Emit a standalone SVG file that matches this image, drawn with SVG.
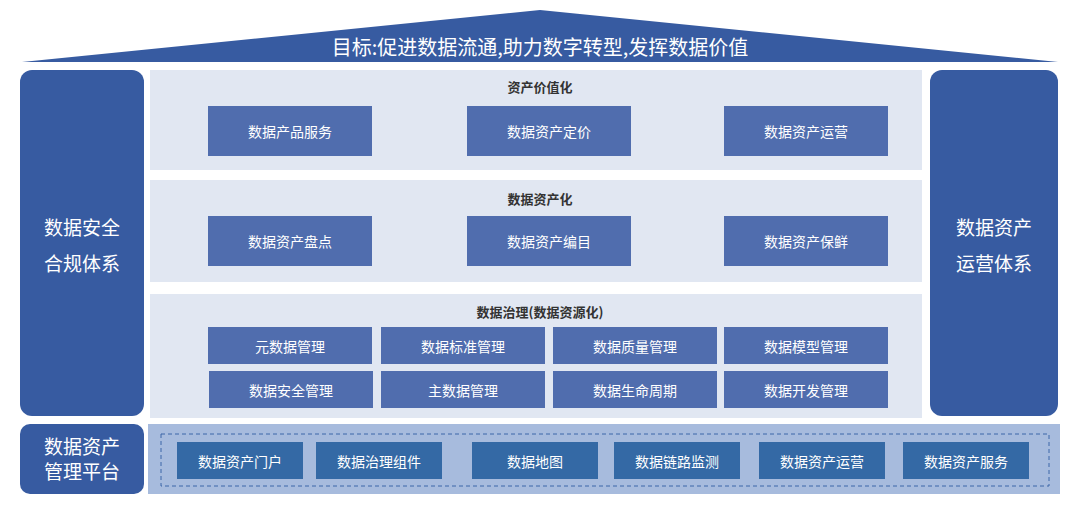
<svg xmlns="http://www.w3.org/2000/svg" width="1080" height="507" viewBox="0 0 1080 507">
<style>
text{font-family:"Noto Sans CJK SC","Noto Sans",sans-serif;text-anchor:middle;dominant-baseline:central}
.side{fill:#375ba1}
.sec{fill:#e1e7f2}
.b{fill:#506dae}
.bt{fill:#fff;font-size:14px}
.h{fill:#333;font-size:13px;font-weight:bold}
.p{fill:#3469a5}
.st{fill:#fff;font-size:19px}
</style>
<rect width="1080" height="507" fill="#fff"/>
<g id="roof"><polygon class="side" points="22,62 540,10 1058,62"/><text x="540" y="46" fill="#fff" font-size="20">目标:促进数据流通,助力数字转型,发挥数据价值</text></g>
<g id="left"><rect class="side" x="20" y="70" width="124" height="346" rx="12"/><text class="st" x="82" y="226">数据安全</text><text class="st" x="82" y="262">合规体系</text></g>
<g id="right"><rect class="side" x="930" y="70" width="128" height="346" rx="12"/><text class="st" x="994" y="226">数据资产</text><text class="st" x="994" y="262">运营体系</text></g>
<g id="platform-label"><rect class="side" x="20" y="424" width="124" height="70" rx="10"/><text class="st" x="82" y="445">数据资产</text><text class="st" x="82" y="470">管理平台</text></g>
<g id="sec1"><rect class="sec" x="150" y="70" width="772" height="100"/><text class="h" x="540" y="86">资产价值化</text>
<rect class="b" x="208" y="106" width="164" height="50"/><text class="bt" x="290" y="131">数据产品服务</text>
<rect class="b" x="467" y="106" width="164" height="50"/><text class="bt" x="549" y="131">数据资产定价</text>
<rect class="b" x="724" y="106" width="164" height="50"/><text class="bt" x="806" y="131">数据资产运营</text></g>
<g id="sec2"><rect class="sec" x="150" y="180" width="772" height="102"/><text class="h" x="540" y="198">数据资产化</text>
<rect class="b" x="208" y="216" width="164" height="50"/><text class="bt" x="290" y="241">数据资产盘点</text>
<rect class="b" x="467" y="216" width="164" height="50"/><text class="bt" x="549" y="241">数据资产编目</text>
<rect class="b" x="724" y="216" width="164" height="50"/><text class="bt" x="806" y="241">数据资产保鲜</text></g>
<g id="sec3"><rect class="sec" x="150" y="294" width="772" height="124"/><text class="h" x="540" y="311">数据治理(数据资源化)</text>
<rect class="b" x="208" y="327" width="164" height="37"/><text class="bt" x="290" y="346">元数据管理</text>
<rect class="b" x="381" y="327" width="164" height="37"/><text class="bt" x="463" y="346">数据标准管理</text>
<rect class="b" x="553" y="327" width="164" height="37"/><text class="bt" x="635" y="346">数据质量管理</text>
<rect class="b" x="724" y="327" width="164" height="37"/><text class="bt" x="806" y="346">数据模型管理</text>
<rect class="b" x="209" y="371" width="164" height="37"/><text class="bt" x="291" y="390">数据安全管理</text>
<rect class="b" x="381" y="371" width="164" height="37"/><text class="bt" x="463" y="390">主数据管理</text>
<rect class="b" x="553" y="371" width="164" height="37"/><text class="bt" x="635" y="390">数据生命周期</text>
<rect class="b" x="724" y="371" width="164" height="37"/><text class="bt" x="806" y="390">数据开发管理</text></g>
<g id="platform"><rect fill="#a7bbdd" x="148" y="424" width="912" height="70"/>
<rect x="161" y="434" width="888" height="52" fill="none" stroke="#3d66a8" stroke-width="1" stroke-dasharray="4,3"/>
<rect class="p" x="177" y="442" width="126" height="37"/><text class="bt" x="240" y="461">数据资产门户</text>
<rect class="p" x="316" y="442" width="126" height="37"/><text class="bt" x="379" y="461">数据治理组件</text>
<rect class="p" x="472" y="442" width="126" height="37"/><text class="bt" x="535" y="461">数据地图</text>
<rect class="p" x="614" y="442" width="126" height="37"/><text class="bt" x="677" y="461">数据链路监测</text>
<rect class="p" x="759" y="442" width="126" height="37"/><text class="bt" x="822" y="461">数据资产运营</text>
<rect class="p" x="903" y="442" width="126" height="37"/><text class="bt" x="966" y="461">数据资产服务</text></g>
<g id="connectors"/>
</svg>
